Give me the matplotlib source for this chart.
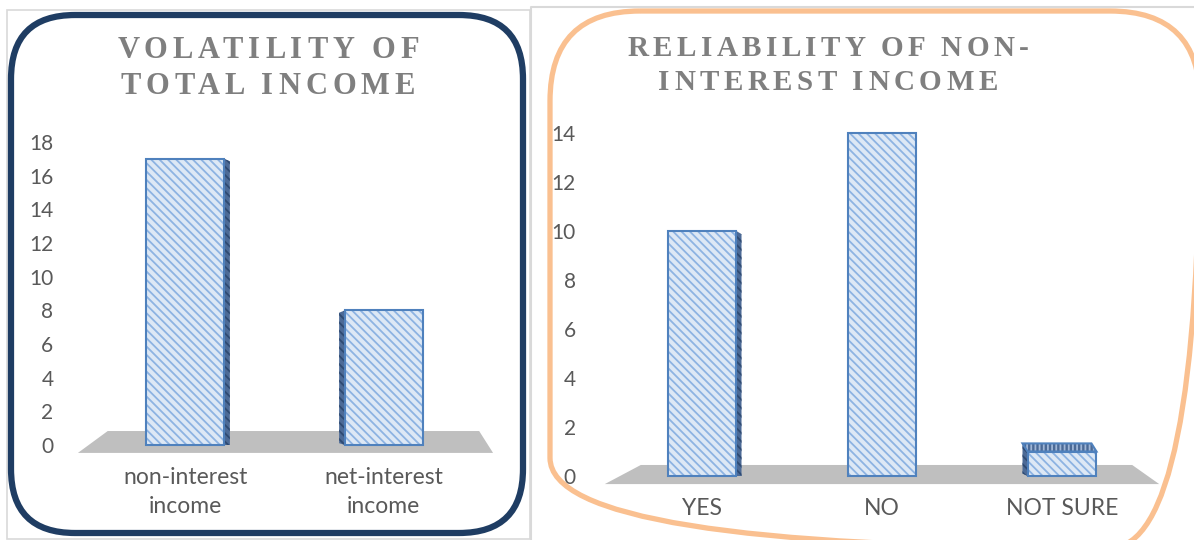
import matplotlib.pyplot as plt
from matplotlib.font_manager import FontProperties
from matplotlib.patches import FancyBboxPatch, Polygon, Rectangle
from matplotlib.textpath import text_to_path

plt.rcParams['hatch.linewidth'] = 1.3

# survey answers
income_types = ['non-interest\nincome', 'net-interest\nincome']
volatility_counts = [17, 8]
answers = ['YES', 'NO', 'NOT SURE']
reliability_counts = [10, 14, 1]

FACE = '#dde8f5'
STRIPE = '#8db3e2'
EDGE = '#4f81bd'
SIDE = '#4c6a96'
SIDE_HATCH = '#2e4a72'
FLOOR = '#bfbfbf'
TEXT = '#595959'
TITLE = '#7f7f7f'


def tracked_text(ax, cx, y, s, size, tracking):
    # letter-spaced title line, centred on cx (pixel units of ax)
    fp = FontProperties(family='Liberation Serif', weight='bold', size=size)
    scale = 100 / 72

    def width(t):
        return text_to_path.get_text_width_height_descent(t, fp, ismath=False)[0] * scale

    xs = [width(s[:i + 1]) - width(s[i]) + i * tracking for i in range(len(s))]
    total = xs[-1] + width(s[-1])
    for ch, x in zip(s, xs):
        if ch != ' ':
            ax.text(cx - total / 2 + x, y, ch, fontproperties=fp, color=TITLE,
                    ha='left', va='center')


def bar3d(ax, x, v, width, side, dx, dz, eye=None):
    x0, x1 = x - width / 2, x + width / 2
    # side face toward the middle of the floor
    if side == 'right':
        ax.add_patch(Polygon([(x1, 0), (x1, v), (x1 + dx, v - dz * 0.4), (x1 + dx, 0)],
                             facecolor=SIDE, edgecolor=SIDE_HATCH, hatch='\\\\\\\\', lw=0,
                             clip_on=False, zorder=3))
    elif side == 'left':
        top = v + dz if eye is not None and v < eye else v - dz * 0.4
        ax.add_patch(Polygon([(x0, 0), (x0, v), (x0 - dx, top), (x0 - dx, dz * 0.3)],
                             facecolor=SIDE, edgecolor=SIDE_HATCH, hatch='\\\\\\\\', lw=0,
                             clip_on=False, zorder=3))
    if eye is not None and v < eye:
        # low box: its top face is visible
        ax.add_patch(Polygon([(x0, v), (x1, v), (x1 - dx, v + dz), (x0 - dx, v + dz)],
                             facecolor=SIDE, edgecolor='#9fb6d6', hatch='||||', lw=0,
                             clip_on=False, zorder=3))
        ax.add_patch(Polygon([(x0, v), (x1, v), (x1 - dx, v + dz), (x0 - dx, v + dz)],
                             facecolor='none', edgecolor=EDGE, lw=1.5, clip_on=False, zorder=5))
    ax.add_patch(Rectangle((x0, 0), width, v, facecolor=FACE, edgecolor=STRIPE,
                           hatch='\\\\\\\\', lw=0, clip_on=False, zorder=4))
    ax.add_patch(Rectangle((x0, 0), width, v, facecolor='none', edgecolor=EDGE,
                           lw=1.5, clip_on=False, zorder=5))


def style_axes(ax, labels, ypad):
    ax.set_facecolor('none')
    for s in ax.spines.values():
        s.set_visible(False)
    ax.set_xticks(range(len(labels)))
    ax.set_xticklabels(labels, linespacing=1.45)
    ax.tick_params(length=0)
    ax.tick_params(axis='x', pad=16)
    ax.tick_params(axis='y', pad=ypad)
    for t in ax.get_xticklabels():
        t.set_fontfamily('Lato')
        t.set_fontsize(16.5)
        t.set_color(TEXT)
    for t in ax.get_yticklabels():
        t.set_fontfamily('Lato')
        t.set_fontsize(15)
        t.set_color(TEXT)


fig = plt.figure(figsize=(11.94, 5.40), dpi=100)

# panel frames drawn in pixel units
bg = fig.add_axes([0, 0, 1, 1], zorder=0)
bg.set_xlim(0, 1194)
bg.set_ylim(540, 0)
bg.axis('off')
bg.add_patch(Rectangle((7, 10), 523, 529, facecolor='none', edgecolor='#d9d9d9', lw=1.2))
bg.plot([531, 531, 1194], [540, 7, 7], color='#d9d9d9', lw=1.5)
bg.add_patch(FancyBboxPatch((11, 15), 512, 518, boxstyle='round,pad=0,rounding_size=64',
                            facecolor='none', edgecolor='#1f3d63', lw=4.5))
bg.add_patch(FancyBboxPatch((550, 11), 650, 537, boxstyle='round,pad=0,rounding_size=90',
                            facecolor='none', edgecolor='#fac090', lw=3.8, clip_on=False))

tracked_text(bg, 268, 50, 'VOLATILITY OF', 22, 5.0)
tracked_text(bg, 268, 87, 'TOTAL INCOME', 22, 5.0)
tracked_text(bg, 828, 48, 'RELIABILITY OF NON-', 21, 4.4)
tracked_text(bg, 828, 82, 'INTEREST INCOME', 21, 4.4)

# volatility of total income
ax1 = fig.add_axes([66 / 1194, 95 / 540, 437 / 1194, 303 / 540], zorder=1)
ax1.set_xlim(-0.6, 1.6)
ax1.set_ylim(0, 18)
ax1.set_yticks(range(0, 19, 2))
ax1.add_patch(Polygon([(-0.54, -0.47), (1.55, -0.47), (1.48, 0.83), (-0.39, 0.83)],
                      facecolor=FLOOR, lw=0, clip_on=False, zorder=2))
bar3d(ax1, 0, volatility_counts[0], 0.39, 'right', 0.03, 0.35)
bar3d(ax1, 1, volatility_counts[1], 0.39, 'left', 0.03, 0.35)
style_axes(ax1, income_types, 9)

# reliability of non-interest income
ax2 = fig.add_axes([594 / 1194, 64 / 540, 576 / 1194, 343 / 540], zorder=1)
ax2.set_xlim(-0.6, 2.6)
ax2.set_ylim(0, 14)
ax2.set_yticks(range(0, 15, 2))
ax2.add_patch(Polygon([(-0.54, -0.33), (2.54, -0.33), (2.39, 0.45), (-0.34, 0.45)],
                      facecolor=FLOOR, lw=0, clip_on=False, zorder=2))
bar3d(ax2, 0, reliability_counts[0], 0.383, 'right', 0.028, 0.33, eye=3)
bar3d(ax2, 1, reliability_counts[1], 0.383, None, 0.028, 0.33, eye=3)
bar3d(ax2, 2, reliability_counts[2], 0.383, 'left', 0.028, 0.33, eye=3)
style_axes(ax2, answers, 13)

fig.savefig('out.png', dpi=100)
